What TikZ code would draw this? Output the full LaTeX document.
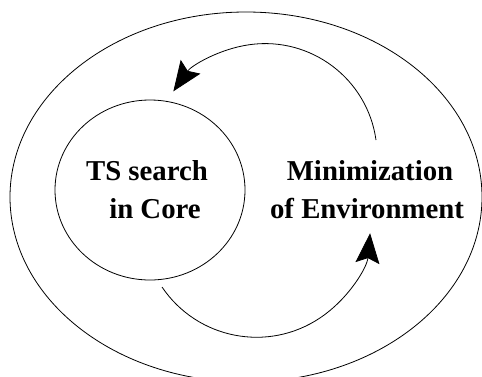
\documentclass[tikz,border=0pt]{standalone}
\usepackage{fontspec}
\setmainfont{Liberation Serif}
\usetikzlibrary{shapes.geometric, arrows.meta}

\begin{document}
\begin{tikzpicture}[x=1pt, y=-1pt, line width=0.8pt,
	region node/.style={ellipse, draw, inner sep=0pt, outer sep=0pt},
	label node/.style={anchor=base, inner sep=0pt, font=\bfseries\fontsize{28.8}{34}\selectfont},
	cycle arrow/.style={-{Stealth[length=30pt, width=24pt, inset=5pt]}}]

			\useasboundingbox (0,0) rectangle (482,376);

			% outer region and the core
			\node[region node, minimum width=472pt, minimum height=370pt] (env) at (246,197) {};
			\node[region node, minimum width=190pt, minimum height=180pt] (core) at (150,190) {};

			% labels
			\node[label node] (ts) at (147,180) {TS search};
			\node[label node] (incore) at (155,218) {in Core};
			\node[label node] (mini) at (370,180) {Minimization};
			\node[label node] (ofenv) at (367,218) {of Environment};

			% start points of the two arcs
			\coordinate (upstart) at (376,140);
			\coordinate (lowstart) at (162,287);

			% draw arc back to the core
			\draw[cycle arrow] (upstart) arc[start angle=-8, end angle=-145, radius=112];

			% draw arc out to the environment
			\draw[cycle arrow] (lowstart) arc[start angle=146, end angle=5, radius=114];

\end{tikzpicture}
\end{document}
